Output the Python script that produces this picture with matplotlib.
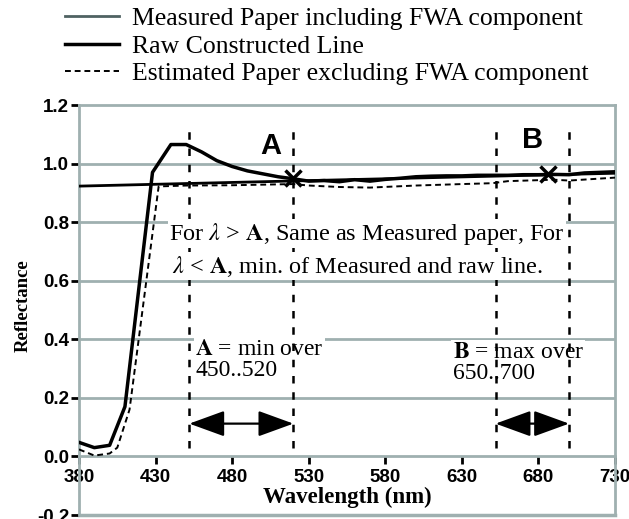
import numpy as np
import matplotlib.pyplot as plt
from matplotlib.lines import Line2D

#
# data
#
meas_wl = [380, 390, 400, 410, 428, 440, 450, 460, 470, 480, 490, 500, 510, 520,
           530, 540, 550, 560, 570, 580, 590, 600, 610, 620, 630, 640, 650, 660,
           670, 680, 690, 700, 710, 720, 730]
meas_r = [0.048, 0.030, 0.038, 0.17, 0.97, 1.065, 1.065, 1.04, 1.01, 0.99, 0.975,
          0.965, 0.955, 0.948, 0.940, 0.942, 0.938, 0.945, 0.940, 0.946, 0.950,
          0.955, 0.957, 0.958, 0.958, 0.960, 0.960, 0.960, 0.962, 0.962, 0.963,
          0.962, 0.968, 0.970, 0.972]

raw_wl = [380, 730]
raw_r = [0.923, 0.967]

est_wl = [380, 390, 400, 405, 413, 432, 450, 480, 520, 530, 550, 570, 600, 630,
          650, 660, 690, 700, 730]
est_r = [0.024, 0.003, 0.010, 0.03, 0.16, 0.922, 0.925, 0.926, 0.930, 0.925,
         0.920, 0.918, 0.925, 0.930, 0.933, 0.940, 0.945, 0.942, 0.952]

range_a = [452, 520]
range_b = [652, 700]
marks_wl = [520, 686]
marks_r = [0.950, 0.964]

xticks = [380, 430, 480, 530, 580, 630, 680, 730]
yticks = [-0.2, 0.0, 0.2, 0.4, 0.6, 0.8, 1.0, 1.2]
ytick_labels = ['-0.2', '0.0', '0.2', '0.4', '0.6', '0.8', '1.0', '1.2']

legend_labels = ['Measured Paper including FWA component',
                 'Raw Constructed Line',
                 'Estimated Paper excluding FWA component']

#
# styling
#
plt.rcParams['mathtext.fontset'] = 'stix'
grid_c = '#9fb0b0'
serif = 'Liberation Serif'
sans = 'Liberation Sans'

fig = plt.figure(figsize=(6.29, 5.19), dpi=100)
ax = fig.add_axes([79/629, 4/519, 536/629, 410/519])

# axes frame in grey, x axis sits at 0.0
for s in ['left', 'right', 'top', 'bottom']:
  ax.spines[s].set_color(grid_c)
  ax.spines[s].set_linewidth(2)
ax.spines['bottom'].set_position(('data', 0))

ax.set_xlim(380, 730)
ax.set_ylim(-0.2, 1.2)
ax.set_xticks(xticks)
ax.set_xticklabels([str(x) for x in xticks])
ax.set_yticks(yticks)
ax.set_yticklabels(ytick_labels)
ax.tick_params(axis='both', direction='out', length=6, width=2, color='black',
               labelsize=13.5, labelfontfamily=sans)
ax.tick_params(axis='y', pad=1)
ax.tick_params(axis='x', pad=3)

ax.axhline(-0.2, color=grid_c, lw=2.5, clip_on=False, zorder=0)
for y in yticks[2:-1]:
  ax.axhline(y, color=grid_c, lw=2, zorder=0)

#
# curves
#
ax.plot(raw_wl, raw_r, color='black', lw=2, zorder=4)
ax.plot(meas_wl, meas_r, color='black', lw=2.5, zorder=4)
ax.plot(est_wl, est_r, color='black', lw=1.4, ls=(0, (3, 2)), zorder=4)
ax.plot(marks_wl, marks_r, ls='none', marker='x', ms=11, mew=2.5, color='black', zorder=5)

# range markers
for x in range_a + range_b:
  ax.plot([x, x], [0.03, 1.14], color='black', lw=1.8, ls=(0, (3, 3.5)), zorder=3)
for r in (range_a, range_b):
  ax.annotate('', xy=(r[0], 0.112), xytext=(r[1], 0.112),
              arrowprops=dict(arrowstyle='<|-|>,head_length=1.1,head_width=0.4',
                              mutation_scale=20, lw=1.6, color='black',
                              shrinkA=0, shrinkB=0), zorder=4)

ax.text(505, 1.06, 'A', fontfamily=sans, fontweight='bold', fontsize=21,
        ha='center', va='center', zorder=5)
ax.text(676, 1.08, 'B', fontfamily=sans, fontweight='bold', fontsize=21,
        ha='center', va='center', zorder=5)

tb = dict(facecolor='white', edgecolor='none', pad=1)
ax.text(439, 0.76, r'For $\lambda$ > $\mathbf{A}$, Same as Measured paper, For',
        fontfamily=serif, fontsize=17.5, ha='left', va='center', bbox=tb, zorder=6)
ax.text(441, 0.65, r'$\lambda$ < $\mathbf{A}$, min. of Measured and raw line.',
        fontfamily=serif, fontsize=17.5, ha='left', va='center', bbox=tb, zorder=6)
ax.text(456, 0.33, '$\\mathbf{A}$ = min over\n450..520', fontfamily=serif,
        fontsize=17, ha='left', va='center', linespacing=1.0, bbox=tb, zorder=2)
ax.text(624, 0.32, '$\\mathbf{B}$ = max over\n650..700', fontfamily=serif,
        fontsize=17, ha='left', va='center', linespacing=1.0, bbox=tb, zorder=2)

ax.set_xlabel('Wavelength (nm)', fontfamily=serif, fontweight='bold', fontsize=16.5)
ax.xaxis.set_label_coords(0.5, 0.068)
ax.set_ylabel('Reflectance', fontfamily=serif, fontweight='bold', fontsize=13.5)
ax.yaxis.set_label_coords(-0.088, 0.51)

#
# legend above the axes
#
handles = [Line2D([], [], color='#4f6262', lw=2),
           Line2D([], [], color='black', lw=2.5),
           Line2D([], [], color='black', lw=1.4, ls=(0, (3, 2)))]
fig.legend(handles, legend_labels, loc='upper left', bbox_to_anchor=(65/629, 1 - 7/519),
           frameon=False, prop={'family': serif, 'size': 18.5}, handlelength=2.1,
           handletextpad=0.5, labelspacing=0.18, borderpad=0, borderaxespad=0)

# bold tick labels (after a draw so all ticks exist)
fig.canvas.draw()
for lab in ax.get_xticklabels() + ax.get_yticklabels():
  lab.set_fontweight('bold')

fig.savefig('out.png', dpi=100)
